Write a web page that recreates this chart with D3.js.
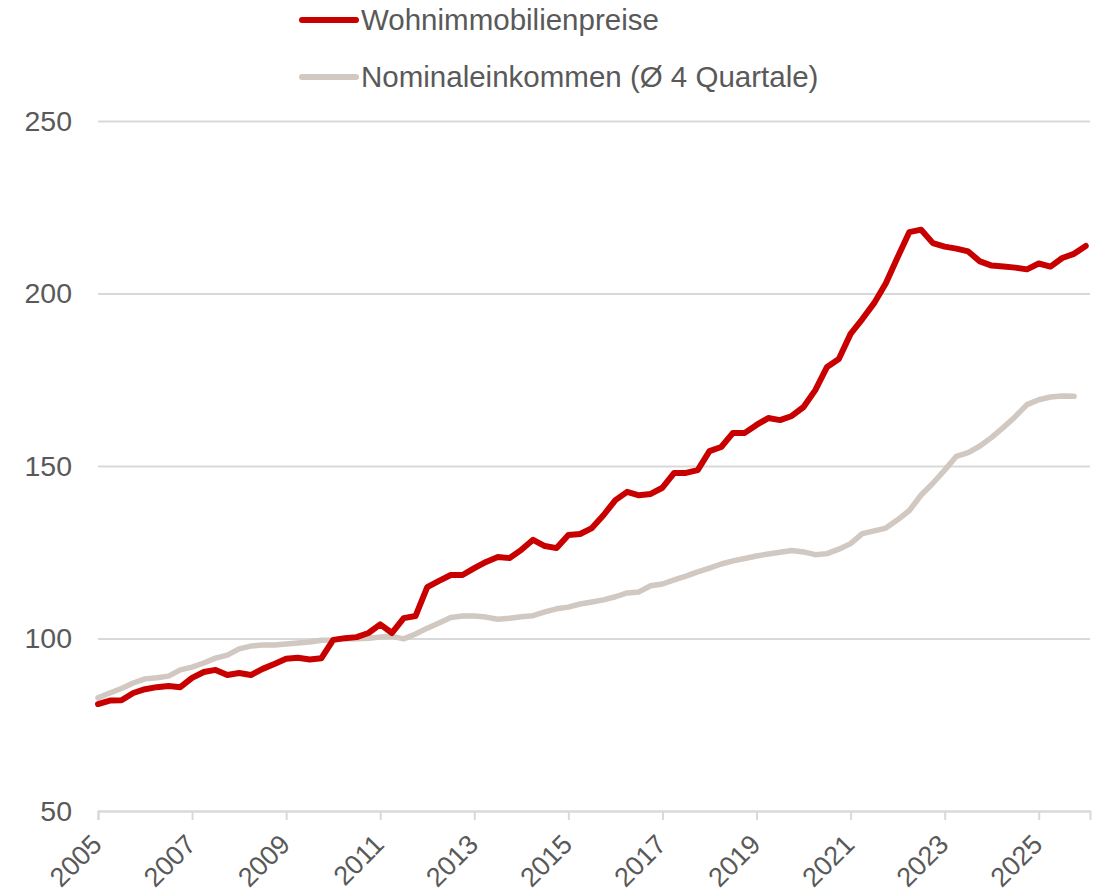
<!DOCTYPE html>
<html lang="de">
<head>
<meta charset="UTF-8">
<title>Wohnimmobilienpreise</title>
<script src="https://cdnjs.cloudflare.com/ajax/libs/d3/7.8.4/d3.min.js"></script>
<style>
  body { margin: 0; background: #fff; }
  svg text { font-family: "Liberation Sans", Arial, sans-serif; fill: #595959; }
</style>
</head>
<body>
<div id="chart"></div>
<script>
// quarterly values, 2005 Q1 onwards
const startYear = 2005;

const preise = [
  81.0, 82.0, 82.1, 84.2, 85.3, 85.9, 86.2, 85.9, 88.6, 90.3,
  90.9, 89.4, 90.0, 89.4, 91.2, 92.6, 94.1, 94.4, 93.9, 94.3,
  99.6, 100.1, 100.4, 101.6, 104.1, 101.6, 105.9, 106.5, 114.9, 116.7,
  118.4, 118.4, 120.4, 122.2, 123.6, 123.3, 125.7, 128.6, 126.8, 126.2,
  130.0, 130.3, 132.0, 135.8, 140.1, 142.5, 141.5, 141.9, 143.7, 148.0,
  148.0, 148.8, 154.3, 155.5, 159.6, 159.6, 161.9, 163.9, 163.3, 164.5,
  167.1, 172.0, 178.7, 181.0, 188.3, 192.6, 197.2, 203.0, 210.5, 217.8,
  218.5, 214.6, 213.6, 213.0, 212.2, 209.3, 208.1, 207.8, 207.5, 207.0,
  208.7, 207.8, 210.3, 211.5, 213.8
];

const einkommen = [
  82.8, 84.2, 85.5, 87.1, 88.3, 88.6, 89.1, 90.9, 91.7, 92.9,
  94.3, 95.2, 97.0, 97.8, 98.1, 98.1, 98.4, 98.7, 99.0, 99.5,
  99.6, 99.9, 99.9, 100.1, 100.4, 100.6, 99.9, 101.3, 103.0, 104.5,
  106.1, 106.5, 106.5, 106.2, 105.6, 105.9, 106.3, 106.6, 107.7, 108.6,
  109.1, 110.0, 110.6, 111.2, 112.1, 113.2, 113.5, 115.3, 115.8, 117.0,
  118.1, 119.3, 120.4, 121.6, 122.5, 123.2, 123.9, 124.5, 125.0, 125.5,
  125.1, 124.3, 124.6, 125.9, 127.5, 130.4, 131.2, 132.0, 134.4, 137.1,
  141.6, 145.0, 148.8, 152.8, 153.9, 155.8, 158.3, 161.2, 164.3, 167.8,
  169.2, 170.0, 170.3, 170.2
];

const seriesNames = ["Wohnimmobilienpreise", "Nominaleinkommen (\u00d8 4 Quartale)"];
const seriesColors = ["#c80000", "#d0c8c1"];
const yTicks = [50, 100, 150, 200, 250];
const xTicks = [2005, 2007, 2009, 2011, 2013, 2015, 2017, 2019, 2021, 2023, 2025];

const w = 1094, h = 893;
const plotLeft = 98, plotRight = 1090, plotTop = 121, plotBottom = 811;

const svg = d3.select("#chart").append("svg")
  .attr("width", w)
  .attr("height", h);

const x = d3.scaleLinear()
  .domain([startYear, startYear + 21.09])
  .range([plotLeft, plotRight]);

const y = d3.scaleLinear()
  .domain([50, 250])
  .range([plotBottom, plotTop]);

// gridlines + y labels
const yAxis = svg.append("g")
  .attr("transform", "translate(" + plotLeft + ",0)")
  .call(d3.axisLeft(y).tickValues(yTicks).tickSize(-(plotRight - plotLeft)).tickPadding(26));
yAxis.select(".domain").remove();
yAxis.selectAll("line").attr("stroke", "#d9d9d9").attr("stroke-width", 2);
yAxis.selectAll("text").style("font-size", "28.5px");

// x axis
const xAxis = svg.append("g")
  .attr("transform", "translate(0," + plotBottom + ")")
  .call(d3.axisBottom(x).tickValues(xTicks).tickSize(9).tickFormat(d3.format("d")));
xAxis.select(".domain").attr("stroke", "#d9d9d9").attr("stroke-width", 2);
xAxis.selectAll("line").attr("stroke", "#d9d9d9").attr("stroke-width", 2);
xAxis.selectAll("text")
  .style("font-size", "27px")
  .attr("x", 0).attr("y", 0).attr("dy", 0)
  .attr("text-anchor", "end")
  .attr("transform", "translate(5,35) rotate(-45)");

const line = d3.line()
  .x((d, i) => x(startYear + i / 4))
  .y(d => y(d));

// income first, prices on top
[einkommen, preise].forEach((s, k) => {
  svg.append("path")
    .datum(s)
    .attr("fill", "none")
    .attr("stroke", seriesColors[1 - k])
    .attr("stroke-width", k ? 6 : 5.5)
    .attr("stroke-linejoin", "round")
    .attr("stroke-linecap", "round")
    .attr("d", line);
});

// legend
const legend = svg.append("g");
seriesNames.forEach((name, i) => {
  const ly = 20 + i * 57;
  legend.append("line")
    .attr("x1", 302).attr("x2", 356)
    .attr("y1", ly).attr("y2", ly)
    .attr("stroke", seriesColors[i])
    .attr("stroke-width", 6)
    .attr("stroke-linecap", "round");
  legend.append("text")
    .attr("x", 361)
    .attr("y", ly)
    .attr("dy", "0.35em")
    .style("font-size", "29.5px")
    .text(name);
});
</script>
</body>
</html>
